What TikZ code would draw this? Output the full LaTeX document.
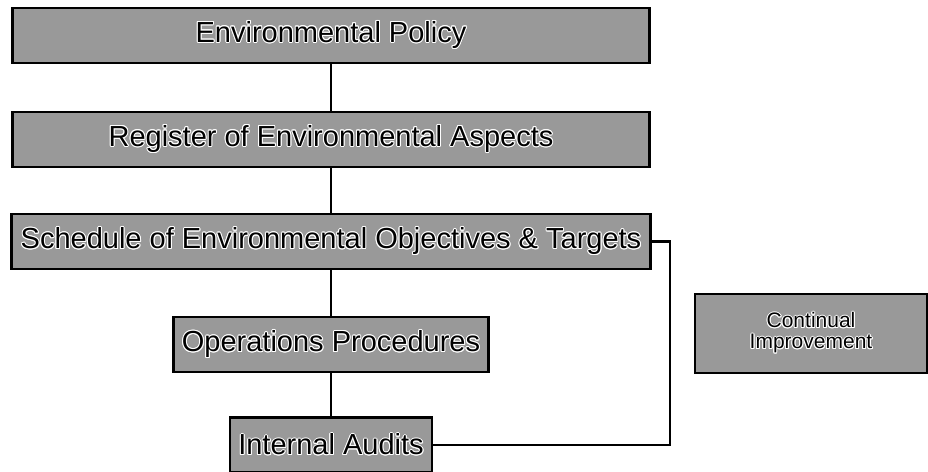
\documentclass[tikz,border=0pt]{standalone}
\usepackage{fontspec}
\setmainfont{Liberation Sans}
\usepackage{tikz}
\usepackage{contour}
\contourlength{1pt}
\contournumber{12}
\newcommand{\halo}[1]{\contour{white}{#1}}

\begin{document}
\begin{tikzpicture}[x=1pt,y=-1pt,
    box/.style={draw=black,line width=2.2pt,fill=black!40,inner sep=0pt,
        minimum height=55pt,font=\fontsize{29}{30}\selectfont},
    small box/.style={box,minimum height=79pt,minimum width=232pt,
        align=center,font=\fontsize{21}{21}\selectfont},
    every path/.style={line width=2.2pt}]
    \useasboundingbox (0,0) rectangle (928,471);

    \node[box,minimum width=637pt] (policy)   at (331,35.5)  {\halo{Environmental Policy}};
    \node[box,minimum width=637pt] (register) at (331,139.5) {\halo{Register of Environmental Aspects}};
    \node[box,minimum width=639pt] (schedule) at (331,241.5) {\halo{Schedule of Environmental Objectives \& Targets}};
    \node[box,minimum width=315pt] (ops)      at (331,344.5) {\halo{Operations Procedures}};
    \node[box,minimum width=202pt] (audits)   at (331,445)   {\halo{Internal Audits}};
    \node[small box] (improve) at (811,333.5) {\halo{Continual}\\\halo{Improvement}};

    \draw (policy) -- (register);
    \draw (register) -- (schedule);
    \draw (schedule) -- (ops);
    \draw (ops) -- (audits);
    \draw (schedule.east) -- ++(18,0) |- (audits.east);

\end{tikzpicture}
\end{document}
